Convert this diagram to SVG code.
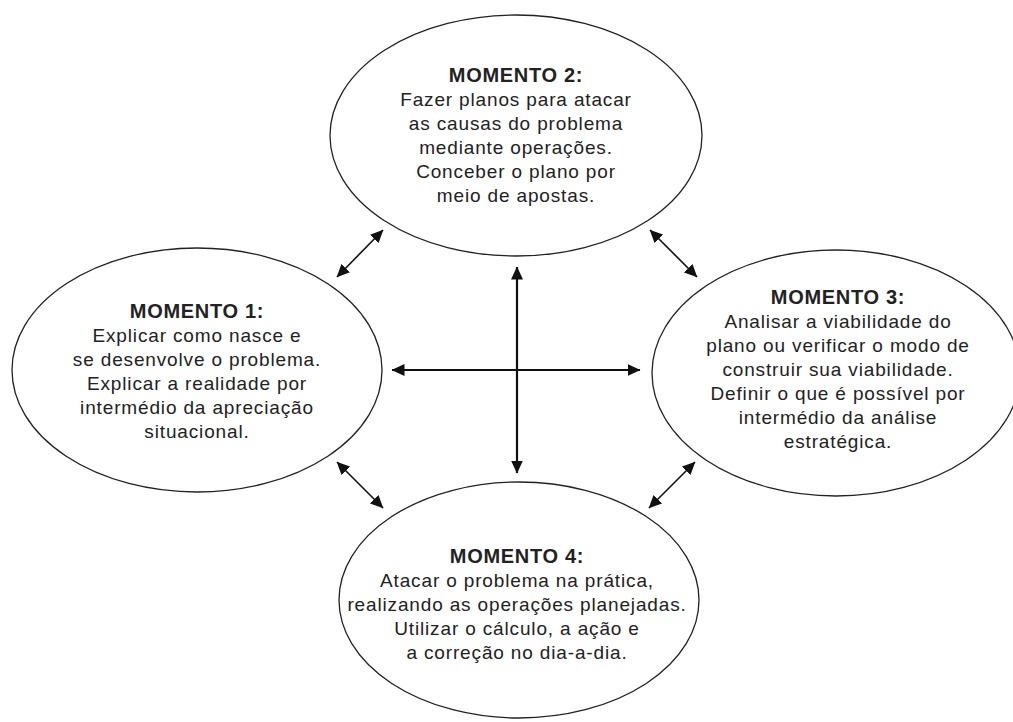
<svg xmlns="http://www.w3.org/2000/svg" width="1013" height="722" viewBox="0 0 1013 722">
<defs>
<marker id="ah" viewBox="0 0 13 12" refX="12.5" refY="6" markerWidth="13" markerHeight="12" orient="auto-start-reverse" markerUnits="userSpaceOnUse">
<path d="M0,0 L13,6 L0,12 z" fill="#111"/>
</marker>
<style>
.el{fill:#fff;stroke:#222;stroke-width:1.3}
.t{font-family:"Liberation Sans",Arial,sans-serif;font-size:19px;letter-spacing:0.85px;fill:#222;text-anchor:middle}
.b{font-weight:bold;font-size:20px;letter-spacing:0.7px}
.c{stroke:#111;fill:none;marker-start:url(#ah);marker-end:url(#ah)}
.x{stroke-width:2.2}
.d{stroke-width:1.6}
</style>
</defs>
<rect width="1013" height="722" fill="#fff"/>
<g id="m2">
<ellipse class="el" cx="516" cy="135.5" rx="186" ry="120.5"/>
<text class="t b" x="516" y="82">MOMENTO 2:</text>
<text class="t" x="516" y="106">Fazer planos para atacar</text>
<text class="t" x="516" y="130">as causas do problema</text>
<text class="t" x="516" y="154">mediante operações.</text>
<text class="t" x="516" y="178">Conceber o plano por</text>
<text class="t" x="516" y="202">meio de apostas.</text>
</g>
<g id="m1">
<ellipse class="el" cx="197" cy="370" rx="185" ry="122"/>
<text class="t b" x="197" y="318">MOMENTO 1:</text>
<text class="t" x="197" y="342">Explicar como nasce e</text>
<text class="t" x="197" y="366">se desenvolve o problema.</text>
<text class="t" x="197" y="390">Explicar a realidade por</text>
<text class="t" x="197" y="414">intermédio da apreciação</text>
<text class="t" x="197" y="438">situacional.</text>
</g>
<g id="m3">
<ellipse class="el" cx="836" cy="373" rx="184" ry="123"/>
<text class="t b" x="838" y="304">MOMENTO 3:</text>
<text class="t" x="838" y="328">Analisar a viabilidade do</text>
<text class="t" x="838" y="352">plano ou verificar o modo de</text>
<text class="t" x="838" y="376">construir sua viabilidade.</text>
<text class="t" x="838" y="400">Definir o que é possível por</text>
<text class="t" x="838" y="424">intermédio da análise</text>
<text class="t" x="838" y="448">estratégica.</text>
</g>
<g id="m4">
<ellipse class="el" cx="519" cy="600" rx="180" ry="118"/>
<text class="t b" x="517" y="563">MOMENTO 4:</text>
<text class="t" x="517" y="587">Atacar o problema na prática,</text>
<text class="t" x="517" y="611">realizando as operações planejadas.</text>
<text class="t" x="517" y="635">Utilizar o cálculo, a ação e</text>
<text class="t" x="517" y="659">a correção no dia-a-dia.</text>
</g>
<g id="connectors">
<line class="c x" x1="517" y1="267" x2="517" y2="473"/>
<line class="c x" x1="392" y1="370" x2="640" y2="370"/>
<line class="c d" x1="337" y1="277" x2="383" y2="230"/>
<line class="c d" x1="650" y1="230" x2="697" y2="277"/>
<line class="c d" x1="337" y1="462" x2="383" y2="508"/>
<line class="c d" x1="695" y1="462" x2="649" y2="508"/>
</g>
</svg>
